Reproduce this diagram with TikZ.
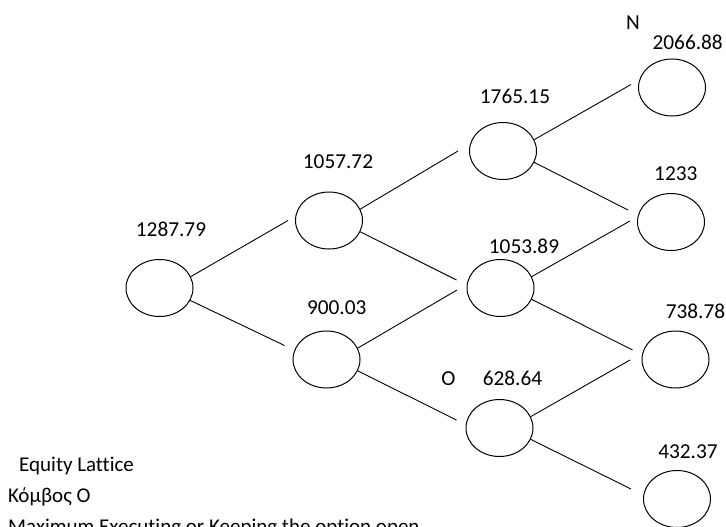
\documentclass[tikz,border=0pt]{standalone}
\usepackage{fontspec}
\setmainfont[Ligatures={NoCommon}]{Carlito}
\usetikzlibrary{shapes.geometric,calc}
\begin{document}
\begin{tikzpicture}[x=1pt,y=-1pt,
  state/.style={ellipse,draw,line width=1pt,minimum width=67pt,minimum height=57pt,inner sep=0pt},
  val/.style={anchor=base,inner sep=0pt,font=\fontsize{21.3}{24}\selectfont},
  note/.style={anchor=base west,inner sep=0pt,font=\fontsize{21}{24}\selectfont},
  link/.style={line width=0.9pt}]
\useasboundingbox (0,0) rectangle (726,527);

% lattice states
\node[state] (r)  at (159.5,288) {};
\node[state] (u)  at (329,220.5) {};
\node[state] (d)  at (326.5,359.5) {};
\node[state] (uu) at (503,151) {};
\node[state] (ud) at (500.5,288) {};
\node[state] (dd) at (499.5,428) {};
\node[state] (t1) at (672,87.5) {};
\node[state] (t2) at (671,222) {};
\node[state] (t3) at (675.5,359.5) {};
\node[state] (t4) at (677,499) {};

% values above the states
\node[val] (vr)  at (171,236.7) {1287.79};
\node[val] (vu)  at (338,168.3) {1057.72};
\node[val] (vd)  at (336.7,314.3) {900.03};
\node[val] (vuu) at (515,103.3) {1765.15};
\node[val] (vud) at (524,253.3) {1053.89};
\node[val] (vdd) at (512.5,385) {628.64};
\node[val] (ldd) at (448.3,385) {O};
\node[val] (lt1) at (633,29.3) {N};
\node[val] (vt1) at (687.7,50) {2066.88};
\node[val] (vt2) at (675.8,180) {1233};
\node[val] (vt3) at (695.5,318.3) {738.78};
\node[val] (vt4) at (688,458.3) {432.37};

% branches
\draw[link] (r.20)   -- ($(u)+(-41,0)$);
\draw[link] (r.-22)  -- ($(d)+(-42,-14)$);
\draw[link] (u.20)   -- ($(uu)+(-45,0)$);
\draw[link] (u.-20)  -- ($(ud)+(-44,-8)$);
\draw[link] (d.20)   -- ($(ud)+(-43.5,2)$);
\draw[link] (d.-20)  -- ($(dd)+(-43,-8)$);
\draw[link] (uu.20)  -- ($(t1)+(-41,-3)$);
\draw[link] (uu.-20) -- ($(t2)+(-43,-12)$);
\draw[link] (ud.20)  -- ($(t2)+(-41,-1)$);
\draw[link] (ud.-20) -- ($(t3)+(-43,-9.5)$);
\draw[link] (dd.20)  -- ($(t3)+(-45.5,0.5)$);
\draw[link] (dd.-20) -- ($(t4)+(-46,-10)$);

% notes
\node[note] (n1) at (19,471.5) {Equity Lattice};
\node[note] (n2) at (8,502.5) {Κόμβος Ο};
\node[note] (n3) at (8,533.5) {Maximum Executing or Keeping the option open};
\end{tikzpicture}
\end{document}
